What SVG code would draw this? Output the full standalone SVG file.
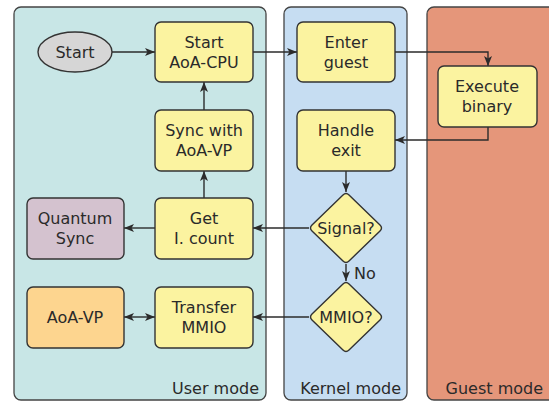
<svg xmlns="http://www.w3.org/2000/svg" width="549" height="403" viewBox="0 0 549 403">
<defs>
<marker id="ah" viewBox="0 0 10 10" refX="10" refY="5" markerWidth="10" markerHeight="10" markerUnits="userSpaceOnUse" orient="auto-start-reverse">
<path d="M0,1 L10,5 L0,9 L2.5,5 Z" fill="#2b2b2b"/>
</marker>
<style>
text{font-family:"DejaVu Sans","Liberation Sans",sans-serif;font-size:16px;fill:#2a2a2a;text-anchor:middle}
.lbl{text-anchor:end}
.panel{stroke:#444;stroke-width:1.3}
.box{stroke:#333;stroke-width:1.4}
.y{fill:#fbf3a0}
.c{fill:none;stroke:#2b2b2b;stroke-width:1.4}
</style>
</defs>
<rect fill="#fff" width="549" height="403"/>
<g id="user-mode"><rect class="panel" x="14" y="7" width="252" height="393" rx="7" fill="#c8e6e6"/><text class="lbl" x="259" y="394">User mode</text></g>
<g id="kernel-mode"><rect class="panel" x="284" y="7" width="123" height="393" rx="7" fill="#c6ddf2"/><text class="lbl" x="401" y="394">Kernel mode</text></g>
<g id="guest-mode"><rect class="panel" x="427" y="7" width="130" height="393" rx="7" fill="#e5967a"/><text class="lbl" x="543" y="394">Guest mode</text></g>

<g id="connectors">
<path class="c" d="M112,52 H155" marker-end="url(#ah)"/>
<path class="c" d="M253,52 H297" marker-end="url(#ah)"/>
<path class="c" d="M395,52 H488 V66" marker-end="url(#ah)"/>
<path class="c" d="M488,127 V140 H395" marker-end="url(#ah)"/>
<path class="c" d="M346,171 V192" marker-end="url(#ah)"/>
<path class="c" d="M309,228 H253" marker-end="url(#ah)"/>
<path class="c" d="M346,264 V281" marker-end="url(#ah)"/>
<path class="c" d="M309,317 H253" marker-end="url(#ah)"/>
<path class="c" d="M155,228 H124" marker-end="url(#ah)"/>
<path class="c" d="M124,317 H155" marker-start="url(#ah)" marker-end="url(#ah)"/>
<path class="c" d="M204,198 V171" marker-end="url(#ah)"/>
<path class="c" d="M204,110 V82" marker-end="url(#ah)"/>
<text x="365" y="279">No</text>
</g>

<g id="start"><ellipse class="box" cx="75" cy="52" rx="37" ry="20" fill="#d6d6d6"/><text x="75" y="58">Start</text></g>
<g id="start-aoa-cpu"><rect class="box y" x="155" y="22" width="98" height="60" rx="6"/><text x="204" y="48">Start</text><text x="204" y="68">AoA-CPU</text></g>
<g id="sync-aoa-vp"><rect class="box y" x="155" y="110" width="98" height="61" rx="6"/><text x="204" y="136">Sync with</text><text x="204" y="156">AoA-VP</text></g>
<g id="get-icount"><rect class="box y" x="155" y="198" width="98" height="61" rx="6"/><text x="204" y="224">Get</text><text x="204" y="244">I. count</text></g>
<g id="quantum-sync"><rect class="box" x="27" y="198" width="97" height="61" rx="6" fill="#d4c2cf"/><text x="75" y="224">Quantum</text><text x="75" y="244">Sync</text></g>
<g id="aoa-vp"><rect class="box" x="27" y="287" width="97" height="61" rx="6" fill="#fdd58f"/><text x="75" y="323">AoA-VP</text></g>
<g id="transfer-mmio"><rect class="box y" x="155" y="287" width="98" height="61" rx="6"/><text x="204" y="313">Transfer</text><text x="204" y="333">MMIO</text></g>
<g id="enter-guest"><rect class="box y" x="297" y="22" width="98" height="60" rx="6"/><text x="346" y="48">Enter</text><text x="346" y="68">guest</text></g>
<g id="handle-exit"><rect class="box y" x="297" y="110" width="98" height="61" rx="6"/><text x="346" y="136">Handle</text><text x="346" y="156">exit</text></g>
<g id="execute-binary"><rect class="box y" x="438" y="66" width="99" height="61" rx="6"/><text x="487" y="92">Execute</text><text x="487" y="112">binary</text></g>
<g id="signal"><path class="box y" d="M343,195 Q346,192 349,195 L380,225 Q383,228 380,231 L349,261 Q346,264 343,261 L312,231 Q309,228 312,225 Z"/><text x="346" y="234">Signal?</text></g>
<g id="mmio"><path class="box y" d="M343,284 Q346,281 349,284 L380,314 Q383,317 380,320 L349,350 Q346,353 343,350 L312,320 Q309,317 312,314 Z"/><text x="346" y="323">MMIO?</text></g>
</svg>
